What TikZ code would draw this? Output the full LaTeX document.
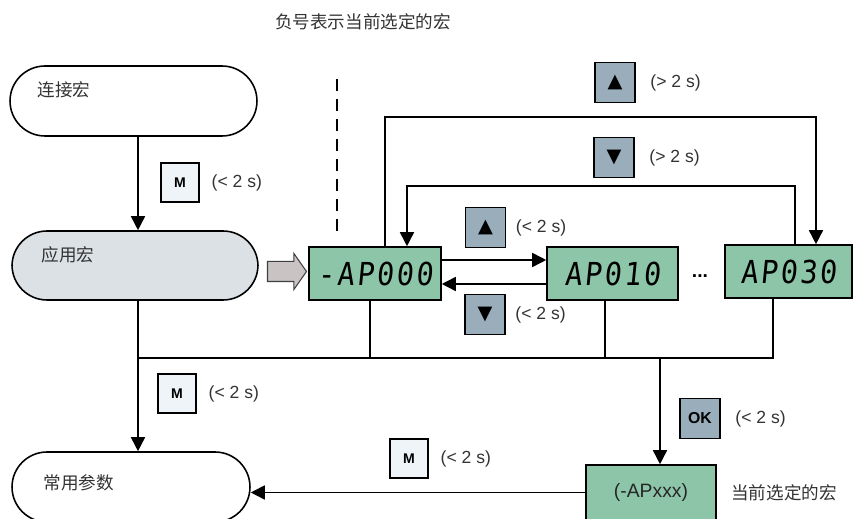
\documentclass[tikz,border=0pt]{standalone}
\usepackage{fontspec}
\setmainfont{Liberation Sans}
\newfontfamily\cjk{Noto Sans CJK SC}
\newfontfamily\segfont[FakeSlant=0.1,FakeStretch=0.9,LetterSpace=8]{DejaVu Sans Mono}
\newfontfamily\symfont{DejaVu Sans}
\usepackage{tikz}
\usetikzlibrary{arrows.meta, positioning, shapes.arrows}
\definecolor{dispgreen}{HTML}{8DC5A8}
\definecolor{keygray}{HTML}{9AADBA}
\definecolor{mkeyfill}{HTML}{EEF4F8}
\definecolor{applgray}{HTML}{DCE1E5}
\definecolor{blkgray}{HTML}{C9C3C3}
\definecolor{txtgray}{HTML}{333333}

\begin{document}
\begin{tikzpicture}[x=0.02cm, y=-0.02cm, line width=0.9pt,
  >={Triangle[width=0.28cm,length=0.28cm]},
  every node/.style={font=\fontsize{10}{12}\selectfont, text=txtgray},
  cjktext/.style={font=\cjk\fontsize{10}{12}\selectfont},
  macro/.style={draw, rounded corners=0.7cm, minimum width=4.94cm, minimum height=1.4cm},
  disp/.style={draw, fill=dispgreen, minimum width=2.62cm, minimum height=1.06cm,
    font=\segfont\fontsize{18}{18}\selectfont, text=black},
  key/.style={draw, fill=keygray, minimum size=0.8cm, inner sep=0pt,
    font=\symfont\fontsize{11}{11}\selectfont, text=black},
  mkey/.style={key, fill=mkeyfill, minimum size=0.77cm, font=\bfseries\fontsize{8}{8}\selectfont}]
\useasboundingbox (0,0) rectangle (856,519);
\clip (0,0) rectangle (856,519);

\node[cjktext] (title) at (363,22) {负号表示当前选定的宏};

% macro boxes on the left
\node[macro] (conn) at (133.5,101) {};
\node[cjktext, anchor=west] (conntxt) at (31,90) {连接宏};
\node[macro, fill=applgray, minimum width=4.92cm, minimum height=1.38cm] (appl) at (135,265.5) {};
\node[cjktext, anchor=west] (appltxt) at (35,255) {应用宏};
\node[macro, minimum width=4.76cm] (common) at (131,487) {};
\node[cjktext, anchor=west] (commontxt) at (37,483) {常用参数};

% displays
\node[disp, minimum width=2.64cm] (ap0) at (375,273.5) {-AP000};
\node[disp] (ap10) at (612.5,273.5) {AP010};
\node[disp, minimum width=2.54cm] (ap30) at (788.5,271.5) {AP030};
\node[font=\bfseries\fontsize{11}{11}\selectfont, text=black] (dots) at (700,276) {...};
\node[disp, font=\fontsize{11}{13}\selectfont, text=black!85, minimum width=2.6cm, minimum height=1.1cm] (sel) at (651,492.5) {(-APxxx)};
\node[cjktext, right=0.16cm of sel] (seltxt) {当前选定的宏};

\node[single arrow, draw=black!75, fill=blkgray, line width=0.6pt, minimum height=0.78cm,
  minimum width=0.7cm, single arrow head extend=0.16cm, single arrow tip angle=110,
  inner xsep=0pt, inner ysep=0.19cm] (blk) at (283.5,271.5) {};

% keys
\node[key] (upl) at (615,82.5) {▲};
\node[right=0.16cm of upl] (upltime) {(> 2 s)};
\node[key] (dnl) at (614,157.5) {▼};
\node[right=0.16cm of dnl] (dnltime) {(> 2 s)};
\node[key] (ups) at (485.5,227.5) {▲};
\node[right=0.06cm of ups] (upstime) {(< 2 s)};
\node[key] (dns) at (485,314.5) {▼};
\node[right=0.06cm of dns] (dnstime) {(< 2 s)};
\node[mkey] (m1) at (180,182.5) {M};
\node[right=0.1cm of m1] (m1time) {(< 2 s)};
\node[mkey] (m2) at (177,393.5) {M};
\node[right=0.1cm of m2] (m2time) {(< 2 s)};
\node[mkey] (m3) at (409,458.5) {M};
\node[right=0.1cm of m3] (m3time) {(< 2 s)};
\node[key, minimum size=0.8cm, font=\bfseries\fontsize{9}{9}\selectfont] (ok) at (700,418.5) {OK};
\node[right=0.16cm of ok] (oktime) {(< 2 s)};

\draw[dashed, dash pattern=on 0.24cm off 0.16cm] (337,79) -- (337,238);

% connectors
\coordinate (busL) at (138,358);
\coordinate (hi) at (0,117);
\coordinate (mid) at (0,186);
\draw[->] (conn.south -| busL) -- (appl.north -| busL);
\draw[->] (appl.south -| busL) -- (common.north -| busL);
\draw (busL) -- ([xshift=-0.31cm]ap30.south |- busL) -- ([xshift=-0.31cm]ap30.south);
\draw ([xshift=-0.1cm]ap0.south) -- ([xshift=-0.1cm]ap0.south |- busL);
\draw ([xshift=-0.15cm]ap10.south) -- ([xshift=-0.15cm]ap10.south |- busL);
\draw[->] ([xshift=0.18cm]sel.north |- busL) -- ([xshift=0.18cm]sel.north);
\draw[->] (sel.west) -- (sel.west -| common.east);
\draw[->] ([xshift=0.2cm]ap0.north) |- ([xshift=0.55cm]ap30.north |- hi) -- ([xshift=0.55cm]ap30.north);
\draw[->] ([xshift=0.13cm]ap30.north) |- ([xshift=0.64cm]ap0.north |- mid) -- ([xshift=0.64cm]ap0.north);
\draw[->] ([yshift=0.27cm]ap0.east) -- ([yshift=0.27cm]ap0.east -| ap10.west);
\draw[->] ([yshift=-0.21cm]ap10.west) -- ([yshift=-0.21cm]ap10.west -| ap0.east);
\end{tikzpicture}
\end{document}
